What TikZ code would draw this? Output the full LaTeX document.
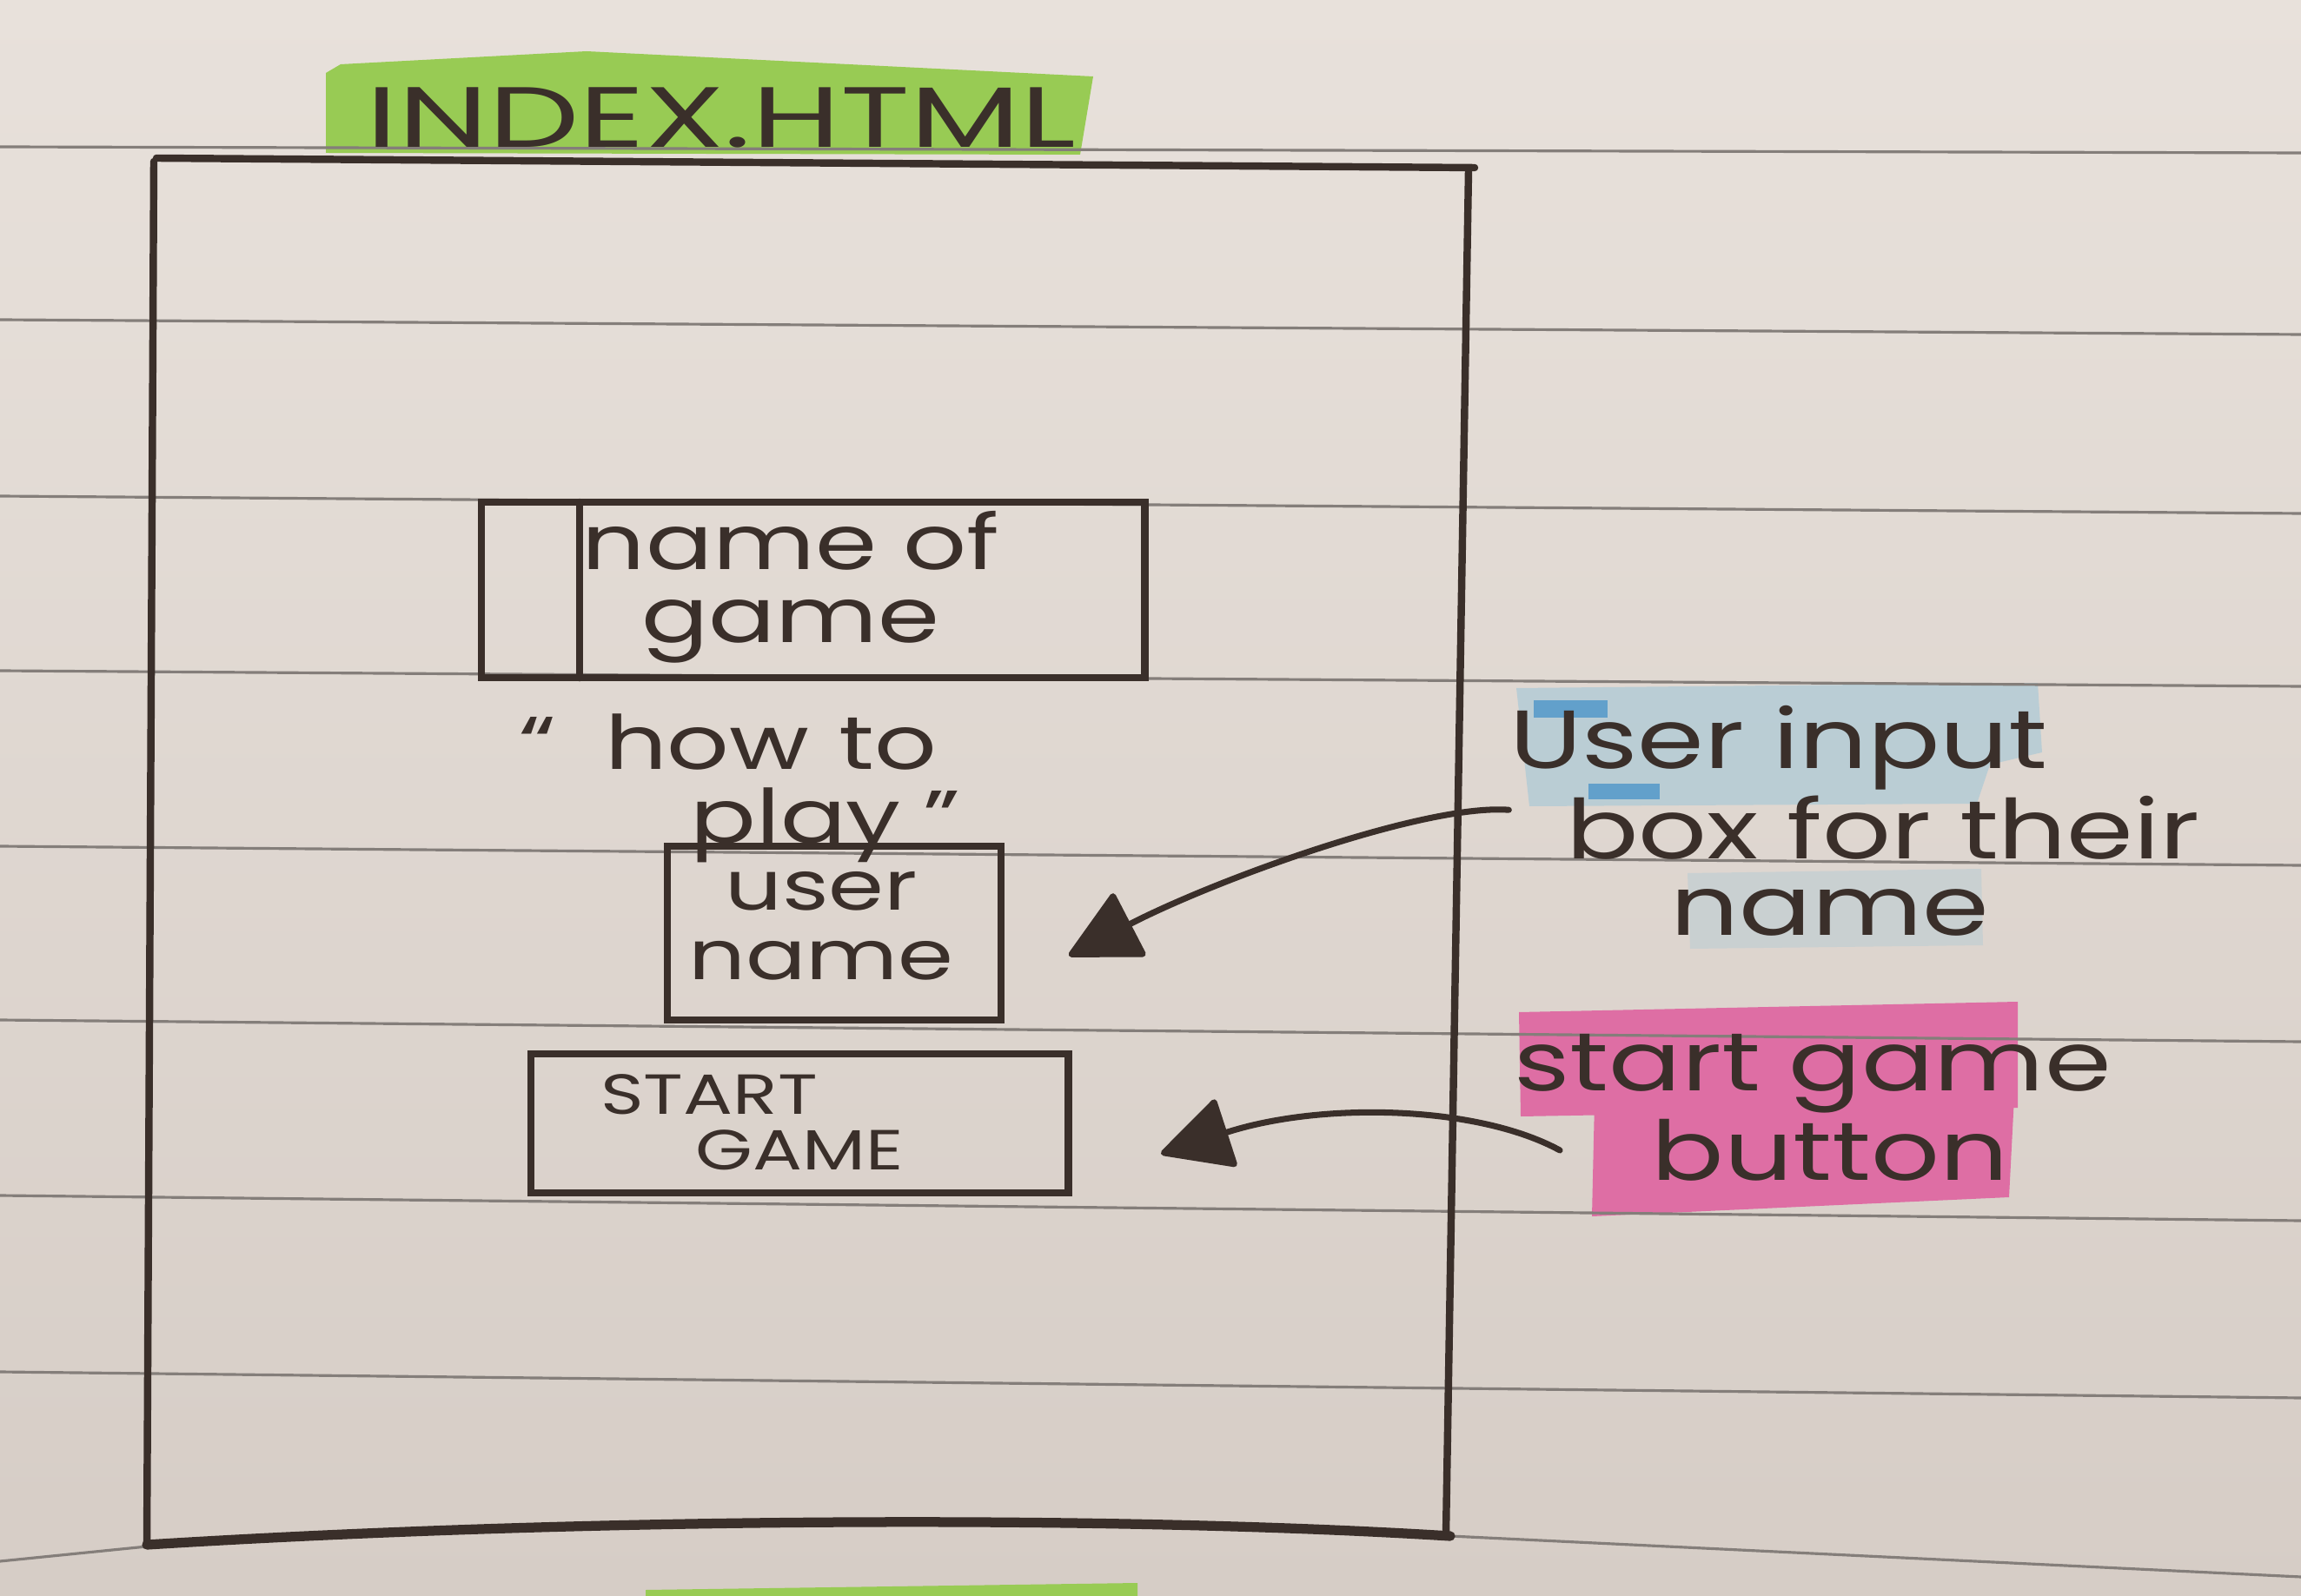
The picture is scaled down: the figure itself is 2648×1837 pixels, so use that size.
\documentclass[tikz,border=0pt]{standalone}
\usepackage{fontspec}
\setmainfont[FakeStretch=1.3]{Poppins}
\newfontfamily\titlefont[FakeStretch=1.5]{Poppins}
\usetikzlibrary{arrows.meta}

\definecolor{paperlight}{RGB}{232,225,219}
\definecolor{paperdark}{RGB}{214,205,198}
\definecolor{rule}{RGB}{132,126,122}
\definecolor{ink}{RGB}{58,47,42}
\definecolor{hlgreen}{RGB}{152,203,84}
\definecolor{hlblue}{RGB}{150,196,216}
\definecolor{hlbluedeep}{RGB}{62,142,200}
\definecolor{hlpink}{RGB}{222,110,164}

\tikzset{
  ruled/.style={draw=rule, line width=0.9pt},
  frameline/.style={draw=ink, line width=2.4pt, line cap=round, line join=round},
  uibox/.style={draw=ink, line width=2.4pt, rectangle, inner sep=0pt, outer sep=0pt},
  hand/.style={text=ink, inner sep=0pt, font=\fontsize{25}{24}\selectfont, align=center},
  smallhand/.style={hand, font=\fontsize{18.5}{18.5}\selectfont},
  note/.style={hand, font=\fontsize{27}{27}\selectfont},
  pointer/.style={draw=ink, line width=2pt, line cap=round,
    -{Triangle[length=24pt, width=24pt, round]}},
}

\begin{document}
\begin{tikzpicture}[x=0.01cm, y=-0.01cm]
  \useasboundingbox (0,0) rectangle (2648,1837);

  % paper
  \shade[top color=paperlight, bottom color=paperdark] (0,0) rectangle (2648,1837);

  % highlighter marks
  \fill[hlgreen] (375,84) -- (392,74) -- (675,59) -- (1258,88) -- (1243,178) -- (375,176) -- cycle;
  \fill[hlgreen] (743,1830) -- (1309,1822) -- (1309,1837) -- (743,1837) -- cycle;

  \fill[hlblue, opacity=0.5] (1745,792) -- (2345,786) -- (2350,866) -- (2290,880) -- (2275,925) -- (1760,928) -- cycle;
  \fill[hlblue, opacity=0.28] (1942,1005) -- (2280,1000) -- (2282,1088) -- (1945,1092) -- cycle;
  \fill[hlbluedeep, opacity=0.7] (1765,806) rectangle (1850,826);
  \fill[hlbluedeep, opacity=0.7] (1828,902) rectangle (1910,920);

  \fill[hlpink] (1748,1165) -- (2322,1153) -- (2322,1275) -- (1750,1285) -- cycle;
  \fill[hlpink] (1835,1268) -- (2318,1262) -- (2312,1378) -- (1832,1400) -- cycle;

  % ruled lines of the page
  \foreach \a/\b in {169/176, 368/385, 571/591, 772/790, 974/996,
                     1174/1199, 1376/1405, 1579/1609}
    \draw[ruled] (0,\a) -- (2648,\b);
  \draw[ruled] (0,1797) -- (169,1780) .. controls (700,1748) and (1300,1748) .. (1669,1768) -- (2648,1815);

  % page title
  \node[hand, font=\titlefont\fontsize{28}{28}\selectfont] (title) at (830,135) {INDEX.HTML};

  % page frame
  \draw[frameline] (180,182) -- (1697,193);
  \draw[frameline] (177,186) -- (169,1778);
  \draw[frameline] (1690,196) -- (1664,1766);
  \draw[frameline, line width=3.2pt] (169,1778) .. controls (700,1745) and (1300,1745) .. (1669,1768);

  % name of game banner with its side panel
  \node[uibox, anchor=north west, minimum width=7.63cm, minimum height=2.02cm] (namebox) at (554,578) {};
  \draw[frameline] ([xshift=1.13cm]namebox.north west) -- ([xshift=1.13cm]namebox.south west);
  \node[hand] (nametext) at (910,676) {name of\\game};

  % how to play link
  \node[hand, font=\fontsize{24.5}{24.5}\selectfont] (howA) at (838,854) {“\hspace{0.65em}how\hspace{0.4em}to};
  \node[hand, font=\fontsize{24.5}{24.5}\selectfont] (howB) at (950,950) {play\hspace{0.3em}”};

  % user name input
  \node[uibox, anchor=north west, minimum width=3.84cm, minimum height=2.0cm] (userbox) at (768,974) {};
  \node[hand, font=\fontsize{22.5}{22.6}\selectfont] (usertext) at (945,1066) {user\\name};

  % start game button
  \node[uibox, anchor=north west, minimum width=6.18cm, minimum height=1.6cm] (startbox) at (611,1213) {};
  \node[smallhand] (startA) at (816,1260) {START};
  \node[smallhand] (startB) at (920,1324) {GAME};

  % annotations
  \node[note] (ua1) at (2047,861) {User input};
  \node[note] (ua2) at (2167,953) {box for their};
  \node[note] (ua3) at (2106,1050) {name};
  \node[note] (sb1) at (2086,1236) {start game};
  \node[note] (sb2) at (2106,1324) {button};

  \coordinate (userTip) at (1230,1100);
  \coordinate (startTip) at (1336,1328);

  \draw[pointer] ([yshift=-0.22cm]ua1.south west) .. controls (1640,925) and (1400,1012) .. (userTip);
  \draw[pointer] ([xshift=-1.05cm]sb2.west) .. controls (1700,1272) and (1520,1268) .. (startTip);
\end{tikzpicture}
\end{document}
